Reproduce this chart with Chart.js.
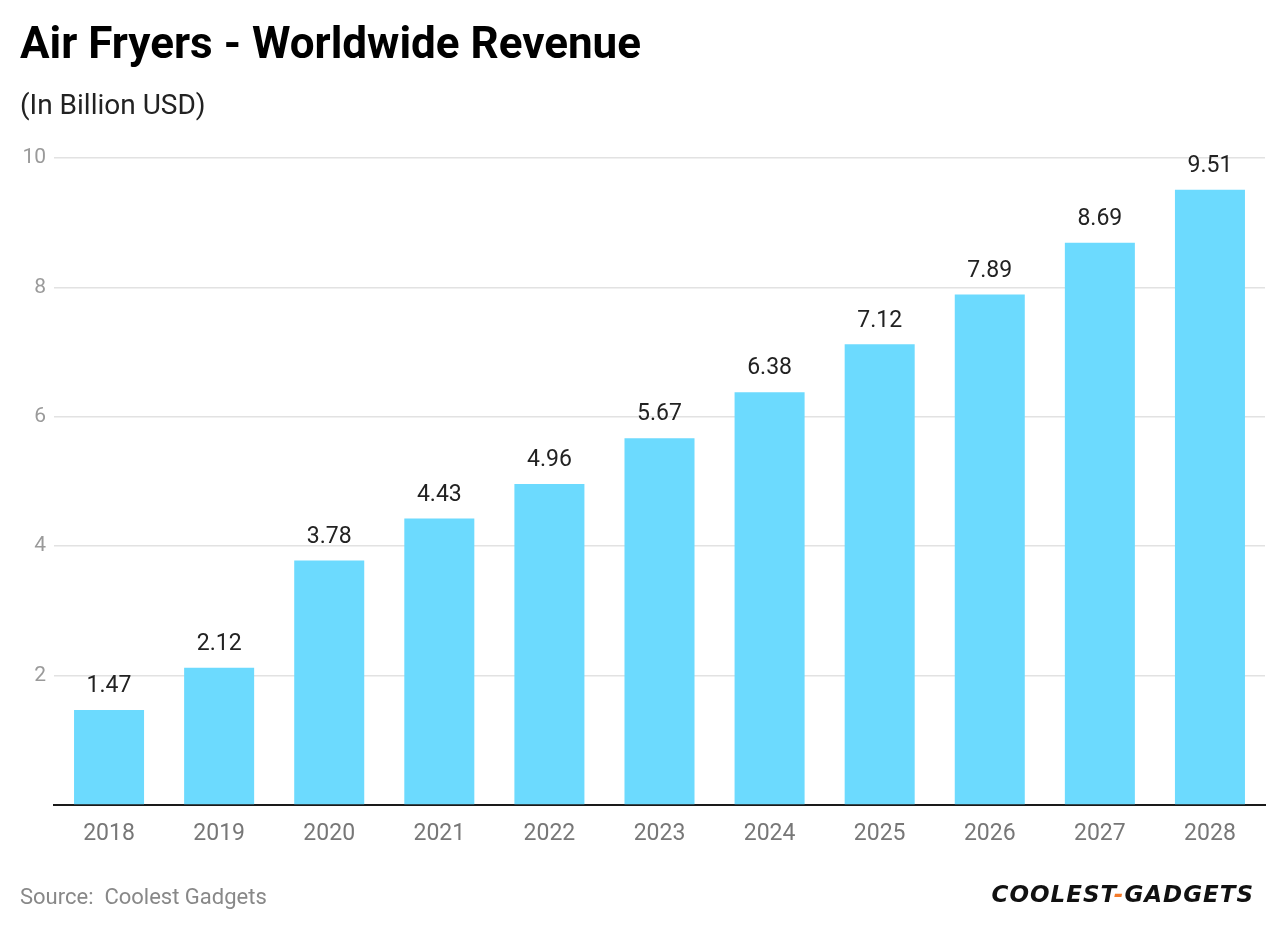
<!DOCTYPE html>
<html>
<head>
<meta charset="utf-8">
<script src="https://cdn.jsdelivr.net/npm/chart.js@4"></script>
<style>
  html, body { margin: 0; padding: 0; background: #fff; }
  body { width: 1280px; height: 932px; position: relative; overflow: hidden; font-family: Roboto, sans-serif; }
  #title { position: absolute; left: 20px; top: 17px; font-size: 44px; font-weight: bold; color: #000; }
  #sub { position: absolute; left: 20px; top: 88px; font-size: 28px; color: #222; }
  #source { position: absolute; left: 20px; top: 884px; font-size: 22px; color: #888; }
  #logo { position: absolute; right: 26px; top: 881px; font-size: 23px; font-weight: bold; font-style: italic; color: #111; letter-spacing: 1px; font-family: "DejaVu Sans", sans-serif; }
  #logo span { color: #f47a2a; }
  #wrap { position: absolute; left: 0; top: 0; width: 1280px; height: 932px; }
</style>
</head>
<body>
<div id="wrap"><canvas id="myChart" width="1280" height="932"></canvas></div>
<div id="title">Air Fryers - Worldwide Revenue</div>
<div id="sub">(In Billion USD)</div>
<div id="source">Source:&nbsp; Coolest Gadgets</div>
<div id="logo">COOLEST<span>-</span>GADGETS</div>
<script>
var years = ["2018", "2019", "2020", "2021", "2022", "2023", "2024", "2025", "2026", "2027", "2028"];
var revenue = [1.47, 2.12, 3.78, 4.43, 4.96, 5.67, 6.38, 7.12, 7.89, 8.69, 9.51];
var yTicks = [0, 2, 4, 6, 8, 10];

// подписи над столбцами
var valueLabels = {
  id: 'valueLabels',
  afterDatasetsDraw: function(chart) {
    var ctx = chart.ctx;
    var meta = chart.getDatasetMeta(0);
    ctx.save();
    ctx.font = '23px Roboto';
    ctx.fillStyle = '#222';
    ctx.textAlign = 'center';
    ctx.textBaseline = 'bottom';
    meta.data.forEach(function(bar, i) {
      ctx.fillText(revenue[i].toFixed(2), bar.x, bar.y - 12);
    });
    ctx.restore();
  }
};

var canvas = document.getElementById('myChart');
var myChart = new Chart(canvas, {
  type: 'bar',
  data: {
    labels: years,
    datasets: [{
      data: revenue,
      backgroundColor: '#6cdafe',
      categoryPercentage: 1,
      barPercentage: 0.636
    }]
  },
  options: {
    responsive: false,
    animation: false,
    layout: { padding: { top: 158, right: 15, bottom: 67, left: 0 } },
    plugins: { legend: { display: false }, tooltip: { enabled: false } },
    scales: {
      x: {
        grid: { display: false },
        border: { display: true, color: '#1a1a1a', width: 2 },
        ticks: { color: '#777', font: { family: 'Roboto', size: 23 }, padding: 7 },
        afterFit: function(s) { s.height = 60; }
      },
      y: {
        min: 0,
        max: 10,
        afterBuildTicks: function(s) { s.ticks = yTicks.map(function(v) { return { value: v }; }); },
        grid: { color: function(c) { return c.tick.value === 0 ? 'rgba(0,0,0,0)' : '#e2e2e2'; }, lineWidth: 1.5, drawTicks: false },
        border: { display: false },
        ticks: {
          color: '#9a9a9a',
          font: { family: 'Roboto', size: 21 },
          padding: 8,
          callback: function(v) { return v === 0 ? '' : v; }
        },
        afterFit: function(s) { s.width = 54; }
      }
    }
  },
  plugins: [valueLabels]
});
</script>
</body>
</html>
